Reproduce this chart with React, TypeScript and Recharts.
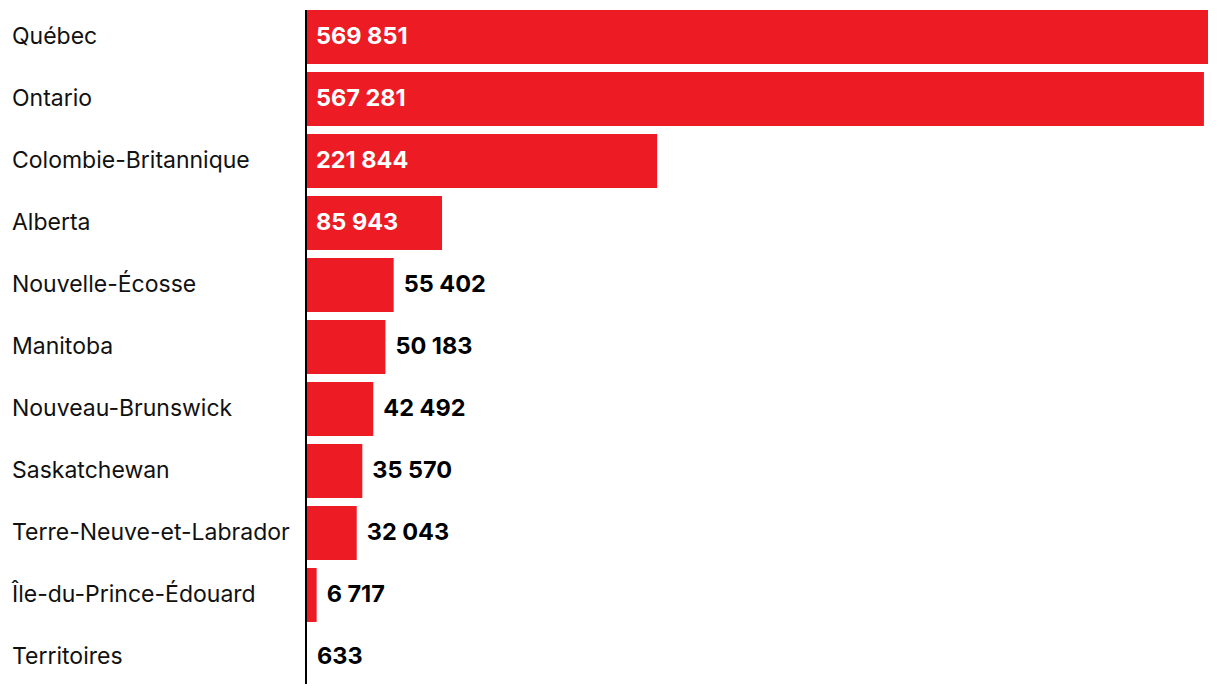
import React from "react";
import { BarChart, Bar, XAxis, YAxis, LabelList, ReferenceLine } from "recharts";

const provinces = [
  "Québec",
  "Ontario",
  "Colombie-Britannique",
  "Alberta",
  "Nouvelle-Écosse",
  "Manitoba",
  "Nouveau-Brunswick",
  "Saskatchewan",
  "Terre-Neuve-et-Labrador",
  "Île-du-Prince-Édouard",
  "Territoires",
];

const totals = [569851, 567281, 221844, 85943, 55402, 50183, 42492, 35570, 32043, 6717, 633];

const data = provinces.map((name, i) => ({ name, value: totals[i] }));

const RED = "#ED1C24";
const FONT = "Inter, 'Noto Sans', sans-serif";

const formatValue = (v: number): string =>
  String(v).replace(/\B(?=(\d{3})+(?!\d))/g, " ");

const ProvinceTick = (props: any) => {
  const { y, payload } = props;
  return (
    <text
      x={12}
      y={y}
      dy={7}
      textAnchor="start"
      fontFamily={FONT}
      fontSize={23}
      fill="#111"
    >
      {payload.value}
    </text>
  );
};

const ValueLabel = (props: any) => {
  const { x, y, width, height, value } = props;
  const inside = value > 60000;
  return (
    <text
      x={inside ? x + 10 : x + width + 10}
      y={y + height / 2}
      dy={7}
      textAnchor="start"
      fontFamily={FONT}
      fontSize={23.5}
      fontWeight={700}
      fill={inside ? "#fff" : "#000"}
    >
      {formatValue(value)}
    </text>
  );
};

// axis line only spans the bars, not the category padding
const AxisLine = (props: any) => {
  const { x1, y1, x2, y2 } = props;
  if (x1 == null) return null;
  const top = Math.min(y1, y2) + 4;
  const bottom = Math.max(y1, y2) - 4;
  return <line x1={x1} y1={top} x2={x2} y2={bottom} stroke="#000" strokeWidth={2} />;
};

export default function App() {
  return (
    <div style={{ position: "absolute", left: 0, top: 0, background: "#fff" }}>
      <BarChart
        width={1220}
        height={694}
        data={data}
        layout="vertical"
        margin={{ top: 6, right: 12, left: 0, bottom: 6 }}
        barCategoryGap={4}
      >
        <XAxis type="number" hide domain={[0, 569851]} />
        <YAxis
          type="category"
          dataKey="name"
          width={306}
          tickLine={false}
          axisLine={false}
          tick={<ProvinceTick />}
          interval={0}
        />
        <Bar dataKey="value" fill={RED} isAnimationActive={false}>
          <LabelList dataKey="value" content={<ValueLabel />} />
        </Bar>
        <ReferenceLine x={0} stroke="#000" strokeWidth={2} shape={AxisLine} />
      </BarChart>
    </div>
  );
}
